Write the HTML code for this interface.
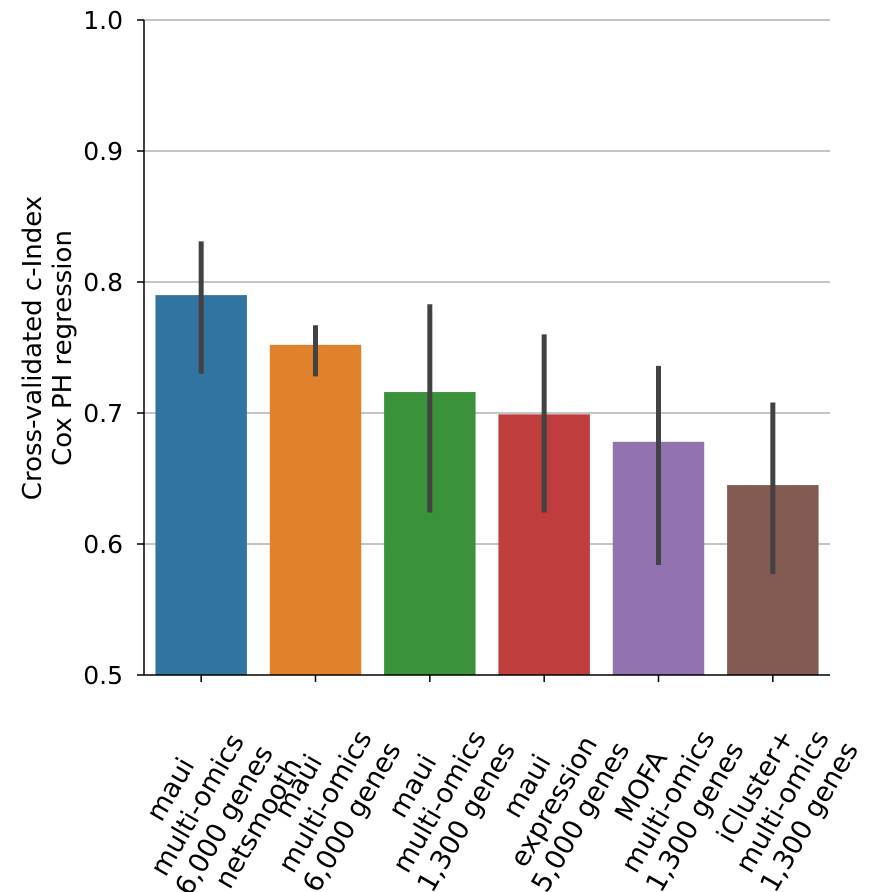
<!DOCTYPE html>
<html><head><meta charset="utf-8"><style>
body{margin:0;background:#fff}
svg{display:block;font-family:"DejaVu Sans","Liberation Sans",sans-serif}
</style></head><body>
<svg id="chart" width="873" height="892">
<g id="grid"></g>
<g id="bars"></g>
<g id="errs"></g>
<g id="axes"></g>
<g id="xlabels"></g>
<text transform="translate(41,348) rotate(-90)" text-anchor="middle" font-size="26" fill="#000"><tspan x="0" dy="0">Cross-validated c-Index</tspan><tspan x="0" dy="30">Cox PH regression</tspan></text>
</svg>
<script>
const categories=[["maui","multi-omics","6,000 genes","& netsmooth"],["maui","multi-omics","6,000 genes"],["maui","multi-omics","1,300 genes"],["maui","expression","5,000 genes"],["MOFA","multi-omics","1,300 genes"],["iCluster+","multi-omics","1,300 genes"]];
const values=[0.790,0.752,0.716,0.699,0.678,0.645];
const errLow=[0.730,0.728,0.624,0.624,0.584,0.577];
const errHigh=[0.831,0.767,0.783,0.760,0.736,0.708];
const yTicks=[0.5,0.6,0.7,0.8,0.9,1.0];
const yTickLabels=["0.5","0.6","0.7","0.8","0.9","1.0"];
const colors=["#3274a1","#e1812c","#3a923a","#c03d3e","#9372b2","#845b53"];
const NS="http://www.w3.org/2000/svg";
const X0=144,X1=830,Y0=675,Y1=20,ymin=0.5,ymax=1.0;
const y=v=>Y0-(v-ymin)/(ymax-ymin)*(Y0-Y1);
const slot=(X1-X0)/categories.length;
const xc=i=>X0+slot*(i+0.5);
function mk(tag,attrs,parent){const e=document.createElementNS(NS,tag);for(const k in attrs)e.setAttribute(k,attrs[k]);parent.appendChild(e);return e;}
const grid=document.getElementById('grid'),axes=document.getElementById('axes');
yTicks.forEach((t,i)=>{
  if(i>0){const g=mk('line',{x1:X0,x2:X1,y1:y(t),y2:y(t),stroke:'#b0b0b0','stroke-width':1.5},grid);
  
  }
  const tk=mk('line',{x1:X0-7,x2:X0,y1:y(t),y2:y(t),stroke:'#000','stroke-width':1.5},axes);
  
  
  const tl=mk('text',{x:X0-21,y:y(t)+9,'text-anchor':'end','font-size':25},axes);
  tl.textContent=yTickLabels[i];
  
  
});
const bars=document.getElementById('bars'),errs=document.getElementById('errs'),xl=document.getElementById('xlabels');
const bw=slot*0.8;
values.forEach((v,i)=>{
  const r=mk('rect',{x:xc(i)-bw/2,y:y(v),width:bw,height:Y0-y(v),fill:colors[i]},bars);
  
  
  const e=mk('line',{x1:xc(i),x2:xc(i),y1:y(errLow[i]),y2:y(errHigh[i]),stroke:'#424242','stroke-width':5},errs);
  
  
  const tk=mk('line',{x1:xc(i),x2:xc(i),y1:Y0,y2:Y0+7,stroke:'#000','stroke-width':1.5},axes);
  
  
  const g=mk('g',{},xl);
  
  
  const n=categories[i].length;
  categories[i].forEach((s,j)=>{
    const t=mk('text',{x:0,y:(j-(n-1)/2)*31+9,'text-anchor':'middle','font-size':27},g);
    t.textContent=s;
  });
  g.setAttribute('transform','rotate(-60)');
  const bb=g.getBoundingClientRect();
  const cx=(bb.left+bb.right)/2, top=bb.top;
  g.setAttribute('transform','translate('+(xc(i)+10-cx)+','+(706-top)+') rotate(-60)');
});
mk('line',{x1:X0,x2:X0,y1:Y1,y2:Y0,stroke:'#000','stroke-width':1.5},axes);
mk('line',{x1:X0,x2:X1,y1:Y0,y2:Y0,stroke:'#000','stroke-width':1.5},axes);
</script>
</body></html>
